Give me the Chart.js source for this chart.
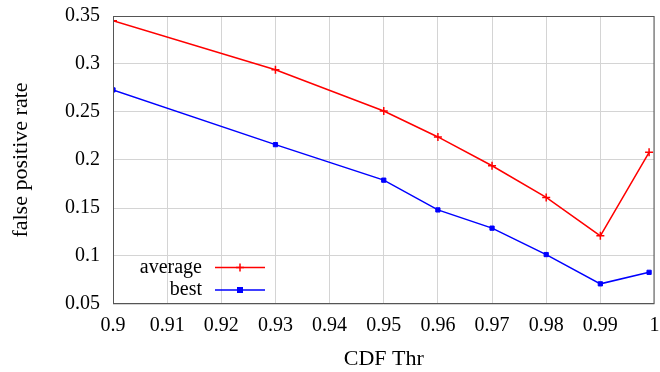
<!DOCTYPE html>
<html>
<head>
<meta charset="utf-8">
<script src="https://cdn.jsdelivr.net/npm/chart.js@4/dist/chart.umd.min.js"></script>
<style>
html,body{margin:0;padding:0;background:#fff;}
#wrap{width:660px;height:372px;position:relative;}
</style>
</head>
<body>
<div id="wrap"><canvas id="c" width="660" height="372"></canvas></div>
<script>
const xValues = [0.9, 0.93, 0.95, 0.96, 0.97, 0.98, 0.99, 0.999];
const averageValues = [0.345, 0.294, 0.251, 0.224, 0.194, 0.161, 0.121, 0.208];
const bestValues = [0.273, 0.216, 0.179, 0.148, 0.129, 0.1015, 0.071, 0.083];
const seriesNames = ['average', 'best'];
const xTitle = 'CDF Thr';
const yTitle = 'false positive rate';

const FONT = 'Liberation Serif, Times New Roman, serif';

function fmt(v){ return String(Number(Number(v).toFixed(3))); }

const legendPlugin = {
  id: 'customLegend',
  afterDatasetsDraw(chart){
    const ctx = chart.ctx;
    const area = chart.chartArea;
    ctx.save();
    ctx.strokeStyle = '#555';
    ctx.lineWidth = 1;
    ctx.strokeRect(area.left + 0.5, area.top + 0.5, area.right - area.left - 1, area.bottom - area.top - 1);
    ctx.restore();
    ctx.save();
    ctx.font = '20px ' + FONT;
    ctx.textAlign = 'right';
    ctx.textBaseline = 'middle';
    const rows = [267.5, 290];
    chart.data.datasets.forEach((ds, i) => {
      const y = rows[i];
      ctx.fillStyle = '#000';
      ctx.fillText(ds.label, 202, y);
      ctx.strokeStyle = ds.borderColor;
      ctx.lineWidth = 1.5;
      ctx.beginPath();
      ctx.moveTo(215, y); ctx.lineTo(265, y);
      ctx.stroke();
      if (i === 0) {
        ctx.beginPath();
        ctx.moveTo(240, y - 4); ctx.lineTo(240, y + 4);
        ctx.moveTo(236, y); ctx.lineTo(244, y);
        ctx.stroke();
      } else {
        ctx.fillStyle = ds.borderColor;
        ctx.fillRect(237, y - 3, 6, 6);
      }
    });
    ctx.restore();
  }
};

new Chart(document.getElementById('c'), {
  type: 'line',
  data: {
    datasets: [
      {
        label: seriesNames[0],
        data: xValues.map((x, i) => ({x: x, y: averageValues[i]})),
        borderColor: '#ff0000',
        backgroundColor: '#ff0000',
        borderWidth: 1.5,
        pointStyle: 'cross',
        pointRadius: 4,
        pointBorderWidth: 1.5,
        tension: 0
      },
      {
        label: seriesNames[1],
        data: xValues.map((x, i) => ({x: x, y: bestValues[i]})),
        borderColor: '#0000ff',
        backgroundColor: '#0000ff',
        borderWidth: 1.5,
        pointStyle: 'rect',
        pointRadius: 3,
        pointBorderWidth: 1,
        tension: 0
      }
    ]
  },
  options: {
    responsive: false,
    animation: false,
    devicePixelRatio: 1,
    layout: { padding: { top: 16, right: 5, left: 0, bottom: 0 } },
    plugins: { legend: { display: false }, tooltip: { enabled: false } },
    scales: {
      x: {
        type: 'linear',
        min: 0.9, max: 1,
        ticks: {
          stepSize: 0.01,
          color: '#000',
          font: { family: FONT, size: 20 },
          padding: 10,
          maxRotation: 0,
          autoSkip: false,
          callback: (v) => fmt(v)
        },
        grid: { color: '#d4d4d4', lineWidth: 1, drawTicks: false },
        border: { display: false },
        title: { display: true, text: xTitle, color: '#000', font: { family: FONT, size: 22 }, padding: { top: 0, bottom: 0 } },
        afterFit(s){ s.height = 68; s.paddingLeft = 0; s.paddingRight = 0; }
      },
      y: {
        min: 0.05, max: 0.35,
        ticks: {
          stepSize: 0.05,
          color: '#000',
          font: { family: FONT, size: 20 },
          padding: 13,
          callback: (v) => fmt(v)
        },
        grid: { color: '#d4d4d4', lineWidth: 1, drawTicks: false },
        border: { display: false },
        title: { display: true, text: yTitle, color: '#000', font: { family: FONT, size: 22 }, padding: { top: 8, bottom: 0 } },
        afterFit(s){ s.width = 113; s.paddingTop = 0; s.paddingBottom = 0; }
      }
    }
  },
  plugins: [legendPlugin]
});
</script>
</body>
</html>
